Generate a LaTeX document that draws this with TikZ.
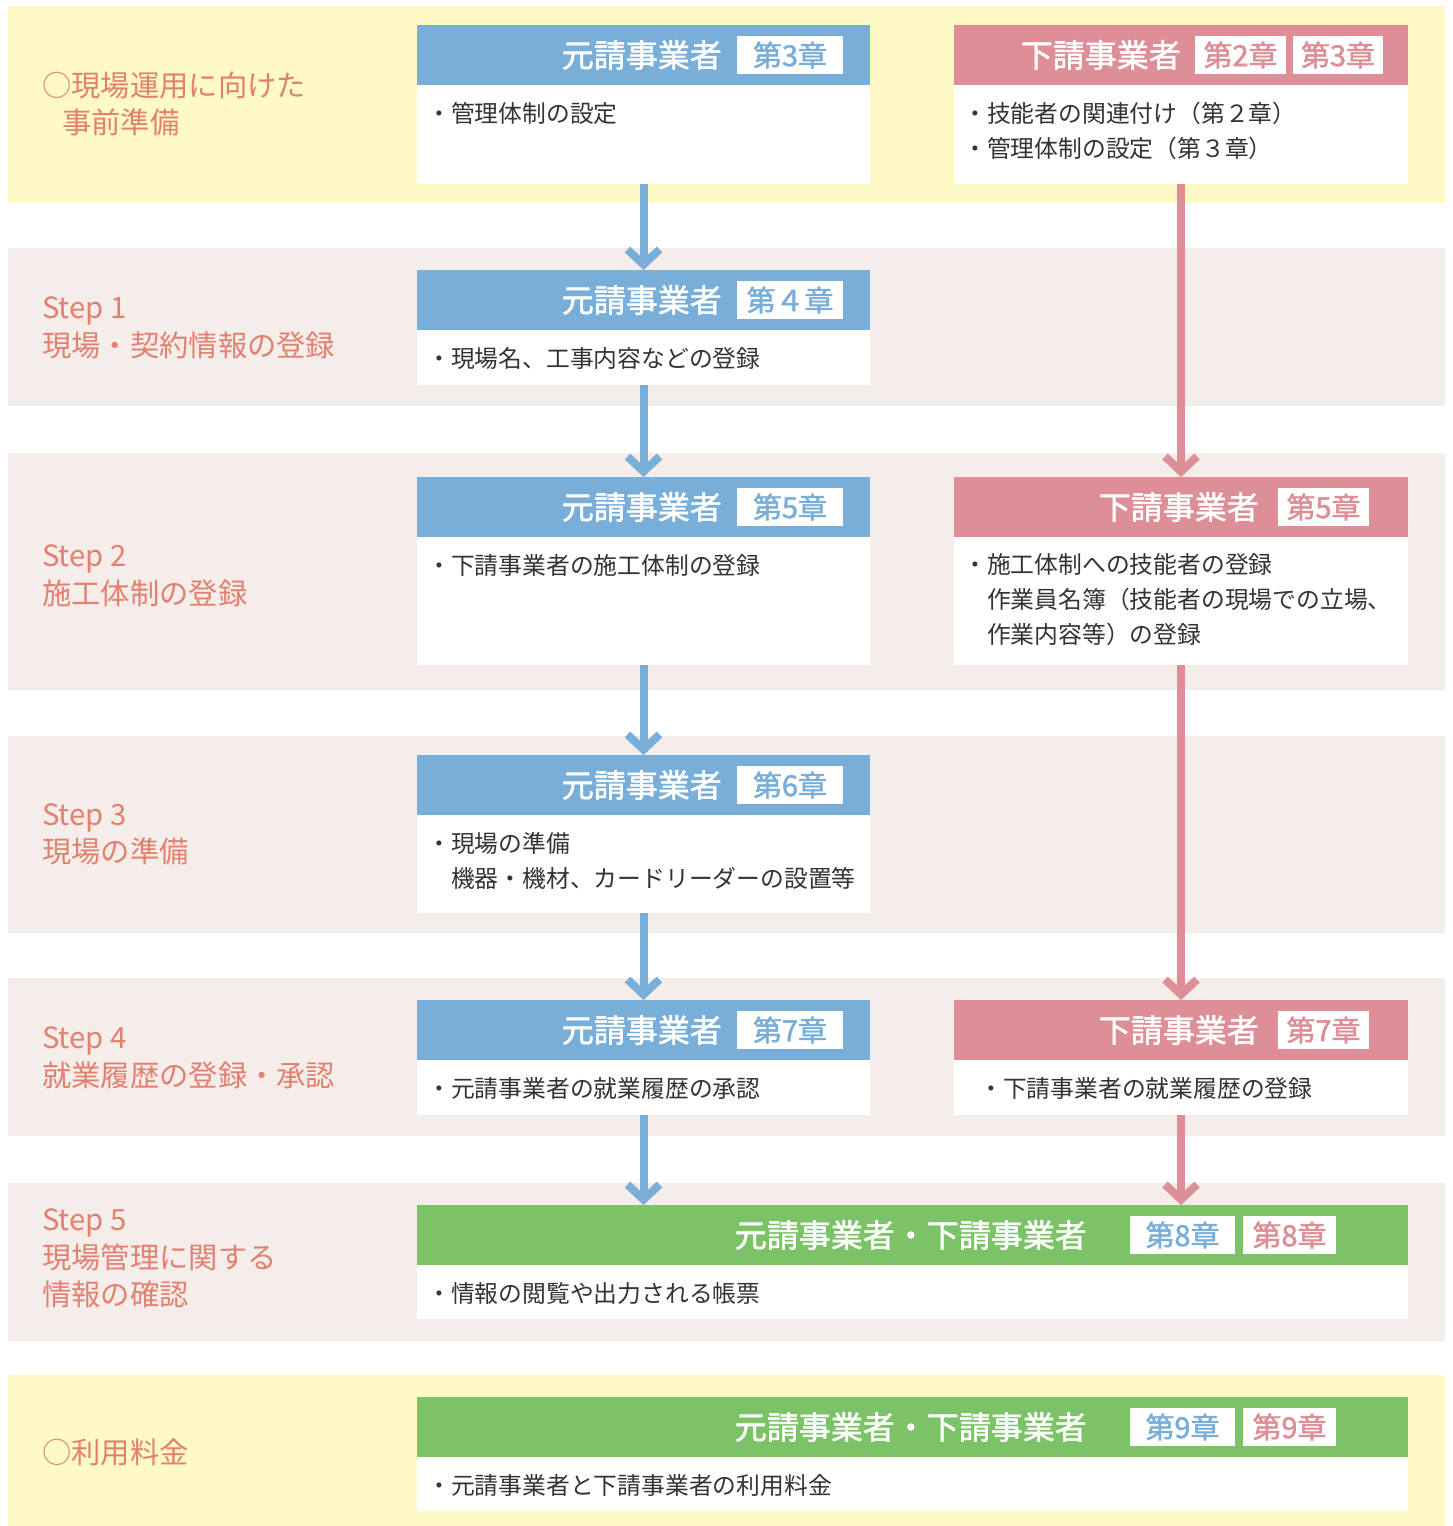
\documentclass[tikz,border=0pt]{standalone}
\usepackage{fontspec}
\setmainfont{Noto Sans CJK JP}
\newfontfamily\medfont[FakeBold=1.6]{Noto Sans CJK JP}
\usetikzlibrary{arrows.meta}
\definecolor{bandY}{HTML}{FFF9C4}
\definecolor{bandP}{HTML}{F5EDEA}
\definecolor{blueH}{HTML}{78AED8}
\definecolor{pinkH}{HTML}{DD8E96}
\definecolor{greenH}{HTML}{7BC366}
\definecolor{ttlC}{HTML}{E28070}
\definecolor{bodyC}{HTML}{333333}
\begin{document}
\begin{tikzpicture}[x=1pt,y=-1pt,
  boxnode/.style={fill=white,draw=none,inner sep=0,outer sep=0},
  ttl/.style={anchor=west,inner sep=0,align=left,text=ttlC,font=\fontsize{29.3}{37.5}\selectfont},
  bodytxt/.style={anchor=west,inner sep=0,align=left,text=bodyC,font=\fontsize{23.8}{35}\selectfont},
  htxt/.style={anchor=east,inner sep=0,text=white,font=\fontsize{32}{32}\selectfont\medfont},
  badge/.style={fill=white,inner sep=0,minimum height=38pt,text=#1,font=\fontsize{29}{29}\selectfont\medfont},
  flowB/.style={draw=blueH,line width=8pt,-{Straight Barb[length=15pt,width=32pt]}},
  flowP/.style={draw=pinkH,line width=8pt,-{Straight Barb[length=15pt,width=32pt]}}]
\useasboundingbox (0,0) rectangle (1453,1526);
\fill[white] (0,0) rectangle (1453,1526);
% bands
\fill[bandY] (8,6) rectangle (1445,203);
\fill[bandP] (8,248) rectangle (1445,406);
\fill[bandP] (8,453) rectangle (1445,690);
\fill[bandP] (8,736) rectangle (1445,933);
\fill[bandP] (8,978) rectangle (1445,1136);
\fill[bandP] (8,1183) rectangle (1445,1341);
\fill[bandY] (8,1375) rectangle (1445,1526);
% titles
\node[ttl] (t0) at (42,104) {○現場運用に向けた\\\hspace{20pt}事前準備};
\node[ttl] (t1) at (42,328) {Step 1\\現場・契約情報の登録};
\node[ttl] (t2) at (42,575.5) {Step 2\\施工体制の登録};
\node[ttl] (t3) at (42,834.5) {Step 3\\現場の準備};
\node[ttl] (t4) at (42,1058) {Step 4\\就業履歴の登録・承認};
\node[ttl] (t5) at (42,1258.5) {Step 5\\現場管理に関する\\情報の確認};
\node[ttl] (t6) at (42,1452) {○利用料金};
% boxes
\node[boxnode,minimum width=453pt,minimum height=159pt] (b0L) at (643.5,104.5) {};
\node[boxnode,minimum width=454pt,minimum height=159pt] (b0R) at (1181,104.5) {};
\node[boxnode,minimum width=453pt,minimum height=115pt] (b1L) at (643.5,327.5) {};
\node[boxnode,minimum width=453pt,minimum height=188pt] (b2L) at (643.5,571) {};
\node[boxnode,minimum width=454pt,minimum height=188pt] (b2R) at (1181,571) {};
\node[boxnode,minimum width=453pt,minimum height=158pt] (b3L) at (643.5,834) {};
\node[boxnode,minimum width=453pt,minimum height=115pt] (b4L) at (643.5,1057.5) {};
\node[boxnode,minimum width=454pt,minimum height=115pt] (b4R) at (1181,1057.5) {};
\node[boxnode,minimum width=991pt,minimum height=114pt] (g5) at (912.5,1262) {};
\node[boxnode,minimum width=991pt,minimum height=114pt] (g6) at (912.5,1454) {};
% headers
\fill[blueH] (b0L.north west) rectangle ++(453,60);
\fill[pinkH] (b0R.north west) rectangle ++(454,60);
\fill[blueH] (b1L.north west) rectangle ++(453,60);
\fill[blueH] (b2L.north west) rectangle ++(453,60);
\fill[pinkH] (b2R.north west) rectangle ++(454,60);
\fill[blueH] (b3L.north west) rectangle ++(453,60);
\fill[blueH] (b4L.north west) rectangle ++(453,60);
\fill[pinkH] (b4R.north west) rectangle ++(454,60);
\fill[greenH] (g5.north west) rectangle ++(991,60);
\fill[greenH] (g6.north west) rectangle ++(991,60);
% header texts and badges
\node[htxt] (h0L) at (722,55) {元請事業者};
\node[badge=blueH,minimum width=106pt] (c0L) at (790,55) {第3章};
\node[htxt] (h0R) at (1181,55) {下請事業者};
\node[badge=pinkH,minimum width=91pt] (c0Ra) at (1240.5,55) {第2章};
\node[badge=pinkH,minimum width=90pt] (c0Rb) at (1338,55) {第3章};
\node[htxt] (h1L) at (722,300) {元請事業者};
\node[badge=blueH,minimum width=106pt] (c1L) at (790,300) {第４章};
\node[htxt] (h2L) at (722,507) {元請事業者};
\node[badge=blueH,minimum width=106pt] (c2L) at (790,507) {第5章};
\node[htxt] (h2R) at (1259,507) {下請事業者};
\node[badge=pinkH,minimum width=91pt] (c2R) at (1323.5,507) {第5章};
\node[htxt] (h3L) at (722,785) {元請事業者};
\node[badge=blueH,minimum width=106pt] (c3L) at (790,785) {第6章};
\node[htxt] (h4L) at (722,1030) {元請事業者};
\node[badge=blueH,minimum width=106pt] (c4L) at (790,1030) {第7章};
\node[htxt] (h4R) at (1259,1030) {下請事業者};
\node[badge=pinkH,minimum width=91pt] (c4R) at (1323.5,1030) {第7章};
\node[htxt] (h5) at (1087,1235) {元請事業者・下請事業者};
\node[badge=blueH,minimum width=105pt] (c5a) at (1182.5,1235) {第8章};
\node[badge=pinkH,minimum width=93pt] (c5b) at (1289.5,1235) {第8章};
\node[htxt] (h6) at (1087,1427) {元請事業者・下請事業者};
\node[badge=blueH,minimum width=105pt] (c6a) at (1182.5,1427) {第9章};
\node[badge=pinkH,minimum width=93pt] (c6b) at (1289.5,1427) {第9章};
% body texts
\node[bodytxt] (x0L) at (427,113) {・管理体制の設定};
\node[bodytxt] (x0R) at (963,130.5) {・技能者の関連付け（第２章）\\・管理体制の設定（第３章）};
\node[bodytxt] (x1L) at (427,358) {・現場名、工事内容などの登録};
\node[bodytxt] (x2L) at (427,565) {・下請事業者の施工体制の登録};
\node[bodytxt] (x2R) at (963,599.5) {・施工体制への技能者の登録\\\phantom{・}作業員名簿（技能者の現場での立場、\\\phantom{・}作業内容等）の登録};
\node[bodytxt] (x3L) at (427,860.5) {・現場の準備\\\phantom{・}機器・機材、カードリーダーの設置等};
\node[bodytxt] (x4L) at (427,1088) {・元請事業者の就業履歴の承認};
\node[bodytxt] (x4R) at (979,1088) {・下請事業者の就業履歴の登録};
\node[bodytxt] (x5) at (427,1293) {・情報の閲覧や出力される帳票};
\node[bodytxt] (x6) at (427,1485) {・元請事業者と下請事業者の利用料金};
% connectors
\draw[flowB] (b0L.south) -- (b1L.north);
\draw[flowB] (b1L.south) -- (b2L.north);
\draw[flowB] (b2L.south) -- (b3L.north);
\draw[flowB] (b3L.south) -- (b4L.north);
\draw[flowB] (b4L.south) -- (b4L.south |- g5.north);
\draw[flowP] (b0R.south) -- (b2R.north);
\draw[flowP] (b2R.south) -- (b4R.north);
\draw[flowP] (b4R.south) -- (b4R.south |- g5.north);
\end{tikzpicture}
\end{document}
